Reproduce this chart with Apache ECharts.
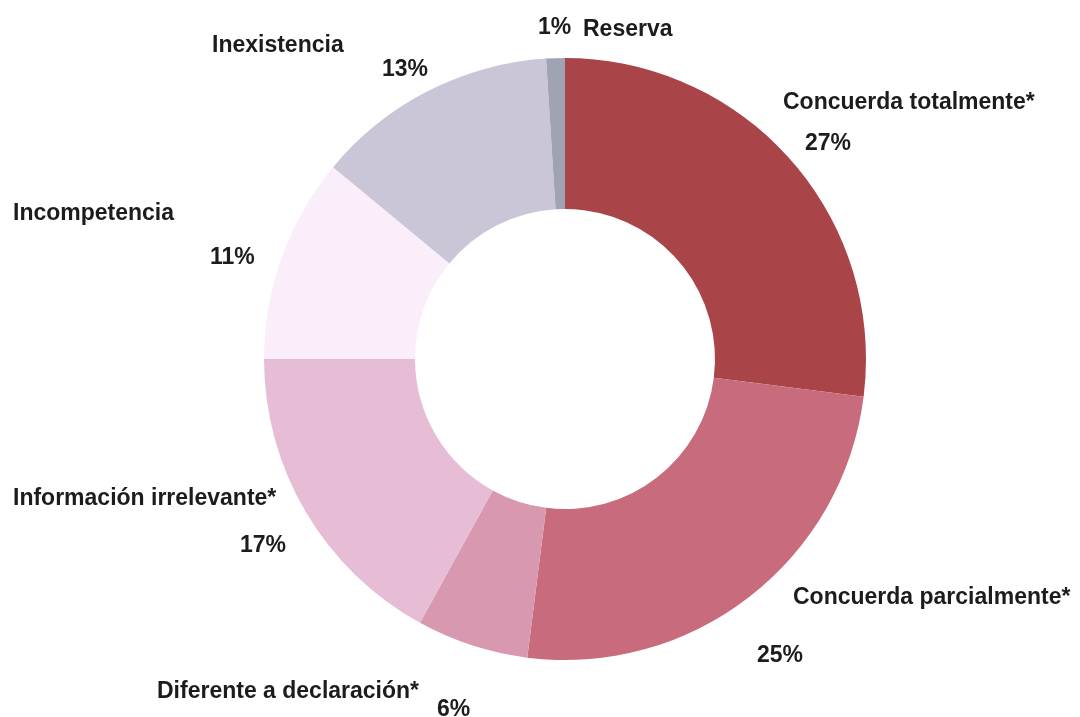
<!DOCTYPE html>
<html>
<head>
<meta charset="utf-8">
<script src="https://cdn.jsdelivr.net/npm/echarts@6/dist/echarts.min.js"></script>
<style>
  html, body { margin: 0; padding: 0; background: #fff; }
  #chart { width: 1080px; height: 717px; }
</style>
</head>
<body>
<div id="chart"></div>
<script>
// categories and values (percent), clockwise from 12 o'clock
var categories = ['Concuerda totalmente*', 'Concuerda parcialmente*', 'Diferente a declaración*',
  'Información irrelevante*', 'Incompetencia', 'Inexistencia', 'Reserva']
var values = [27, 25, 6, 17, 11, 13, 1]
var colors = ['#a94548', '#c86b7c', '#d898b0', '#e7bdd6', '#fbeefb', '#cbc5d8', '#a0a3b3']

// where the name / percent labels sit (left edge, vertical middle)
var namePos = [[783, 103], [793, 598], [157, 692], [13, 499], [13, 214], [212, 46], [583, 30]]
var pctPos = [[805, 144], [757, 656], [437, 710], [240, 546], [210, 258], [382, 70], [538, 28]]

var labelFont = {
  fontFamily: '"Liberation Sans", Arial, sans-serif',
  fontWeight: 'bold',
  fontSize: 23,
  color: '#1c1c1c',
  overflow: 'none'
}

var pieData = categories.map(function (name, i) {
  return { name: name, value: values[i], itemStyle: { color: colors[i] } }
})

var myChart = echarts.init(document.getElementById('chart'))
myChart.setOption({
  animation: false,
  series: [{
    type: 'pie',
    center: [565, 359],
    radius: [150, 301],
    startAngle: 90,
    clockwise: true,
    data: pieData,
    emphasis: { disabled: true },
    labelLine: { show: false },
    label: Object.assign({ show: true, position: 'outside', formatter: '{b}' }, labelFont),
    labelLayout: function (params) {
      var p = namePos[params.dataIndex]
      return { x: p[0], y: p[1], align: 'left', verticalAlign: 'middle', width: 400 }
    }
  }, {
    type: 'pie',
    center: [565, 359],
    radius: [150, 301],
    startAngle: 90,
    clockwise: true,
    silent: true,
    data: categories.map(function (name, i) {
      return { name: name, value: values[i], itemStyle: { color: 'rgba(0,0,0,0)' } }
    }),
    labelLine: { show: false },
    label: Object.assign({ show: true, position: 'outside', formatter: '{c}%' }, labelFont),
    labelLayout: function (params) {
      var p = pctPos[params.dataIndex]
      return { x: p[0], y: p[1], align: 'left', verticalAlign: 'middle', width: 100 }
    }
  }]
})
</script>
</body>
</html>
